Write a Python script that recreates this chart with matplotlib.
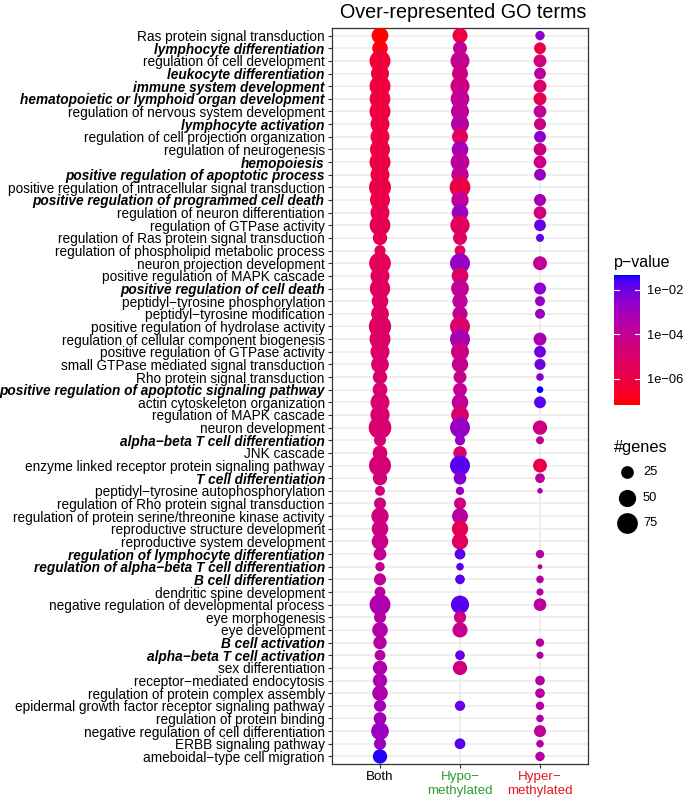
import numpy as np
import matplotlib
matplotlib.use("Agg")
import matplotlib.pyplot as plt
from matplotlib.colors import ListedColormap, Normalize

plt.rcParams['font.family'] = ['Liberation Sans', 'DejaVu Sans']

# ---------------- data ----------------
terms = [
    "Ras protein signal transduction", "lymphocyte differentiation",
    "regulation of cell development", "leukocyte differentiation",
    "immune system development", "hematopoietic or lymphoid organ development",
    "regulation of nervous system development", "lymphocyte activation",
    "regulation of cell projection organization", "regulation of neurogenesis",
    "hemopoiesis", "positive regulation of apoptotic process",
    "positive regulation of intracellular signal transduction",
    "positive regulation of programmed cell death",
    "regulation of neuron differentiation", "regulation of GTPase activity",
    "regulation of Ras protein signal transduction",
    "regulation of phospholipid metabolic process",
    "neuron projection development", "positive regulation of MAPK cascade",
    "positive regulation of cell death", "peptidyl\u2212tyrosine phosphorylation",
    "peptidyl\u2212tyrosine modification", "positive regulation of hydrolase activity",
    "regulation of cellular component biogenesis",
    "positive regulation of GTPase activity",
    "small GTPase mediated signal transduction", "Rho protein signal transduction",
    "positive regulation of apoptotic signaling pathway",
    "actin cytoskeleton organization", "regulation of MAPK cascade",
    "neuron development", "alpha\u2212beta T cell differentiation", "JNK cascade",
    "enzyme linked receptor protein signaling pathway", "T cell differentiation",
    "peptidyl\u2212tyrosine autophosphorylation",
    "regulation of Rho protein signal transduction",
    "regulation of protein serine/threonine kinase activity",
    "reproductive structure development", "reproductive system development",
    "regulation of lymphocyte differentiation",
    "regulation of alpha\u2212beta T cell differentiation", "B cell differentiation",
    "dendritic spine development", "negative regulation of developmental process",
    "eye morphogenesis", "eye development", "B cell activation",
    "alpha\u2212beta T cell activation", "sex differentiation",
    "receptor\u2212mediated endocytosis", "regulation of protein complex assembly",
    "epidermal growth factor receptor signaling pathway",
    "regulation of protein binding", "negative regulation of cell differentiation",
    "ERBB signaling pathway", "ameboidal\u2212type cell migration",
]
immune_terms = [1, 3, 4, 5, 7, 10, 11, 13, 20, 28, 32, 35, 41, 42, 43, 48, 49]

groups = ["Both", "Hypo\u2212\nmethylated", "Hyper\u2212\nmethylated"]
group_colors = ["black", "#2E9B2E", "#E3171C"]

nan = np.nan
genes_both = [46, 40, 77, 55, 77, 75, 77, 62, 62, 69, 77, 62, 85, 69, 62, 75, 33, 18,
              83, 62, 72, 46, 53, 88, 77, 62, 53, 33, 35, 62, 64, 91, 22, 35, 85, 33,
              14, 22, 50, 46, 46, 25, 12, 22, 17, 76, 22, 40, 28, 17, 33, 33, 40, 22,
              25, 53, 22, 33]
genes_hypo = [37, 31, 62, 42, 62, 60, 55, 55, 42, 46, 60, 50, 75, 50, 46, 64, 31, 17,
              69, 46, 53, 38, 37, 69, 69, 55, 44, 26, 30, 46, 53, 69, 15, 28, 69, 25,
              9, 22, 42, 44, 44, 17, 7, 13, nan, 56, 23, 37, nan, 13, 33, nan, nan, 15,
              nan, nan, 17, nan]
genes_hyper = [12, 21, 26, 21, 26, 26, 25, 22, 21, 25, 25, 21, nan, 22, 25, 21, 8, nan,
               31, nan, 22, 14, 14, nan, 26, 21, 18, 7, 5, 21, nan, 33, 8, nan, 31, 13,
               3, nan, nan, nan, nan, 9, 2, 7, 6, 25, nan, nan, 9, 6, nan, 13, 13, 9,
               7, 22, 7, 12]

# log10(p-value)
logp_both = [-7.17, -7.0, -6.3, -6.2, -6.2, -6.1, -6.1, -6.05, -6.05, -6.0, -5.95,
             -5.95, -5.9, -5.9, -5.7, -5.6, -5.6, -5.6, -5.5, -5.45, -5.3, -5.3, -5.25,
             -5.2, -5.15, -5.1, -5.0, -4.95, -4.95, -4.95, -4.9, -4.9, -4.8, -4.8,
             -4.75, -4.6, -4.6, -4.55, -4.5, -4.45, -4.25, -4.0, -3.9, -3.9, -3.8,
             -3.3, -3.55, -3.55, -3.55, -3.55, -3.3, -3.3, -3.3, -3.1, -3.1, -2.75,
             -2.9, -1.4]
logp_hypo = [-6.0, -3.9, -4.0, -4.5, -4.45, -3.9, -3.9, -3.65, -5.4, -3.1, -3.8, -3.9,
             -5.9, -3.9, -2.85, -5.4, -5.2, -5.4, -2.7, -5.05, -3.9, -3.9, -3.9, -5.05,
             -3.25, -4.45, -4.1, -4.1, -4.1, -3.9, -4.95, -2.7, -2.75, -4.95, -1.75,
             -2.4, -2.75, -4.45, -3.7, -5.6, -5.35, -1.75, -1.75, -1.75, nan, -1.75,
             -4.45, -4.1, nan, -1.9, -4.45, nan, nan, -1.9, nan, nan, -1.75, nan]
logp_hyper = [-2.5, -5.9, -4.55, -3.8, -5.05, -5.6, -3.85, -4.35, -2.5, -4.45, -4.45,
              -2.75, nan, -3.1, -4.55, -1.9, -1.85, nan, -3.9, nan, -2.5, -2.75, -2.75,
              nan, -3.25, -2.05, -2.05, -2.4, -1.33, -1.75, nan, -4.45, -3.9, nan, -5.9,
              -3.7, -3.55, nan, nan, nan, nan, -3.55, -3.55, -3.55, -3.7, -3.7, nan,
              nan, -3.55, -3.55, nan, -3.55, -3.55, -3.55, -3.55, -3.9, -3.55, -3.55]

size_legend_values = [25, 50, 75]
color_ticks = [-6, -4, -2]
color_tick_labels = ["1e\u221206", "1e\u221204", "1e\u221202"]

# ---------------- colour map: red -> blue interpolated in CIE Lab ----------------
WP = np.array([0.95047, 1.0, 1.08883])
M = np.array([[0.4124564, 0.3575761, 0.1804375],
              [0.2126729, 0.7151522, 0.0721750],
              [0.0193339, 0.1191920, 0.9503041]])


def srgb_to_lab(rgb):
    rgb = np.asarray(rgb, float)
    c = np.where(rgb <= 0.04045, rgb / 12.92, ((rgb + 0.055) / 1.055) ** 2.4)
    xyz = M @ c
    f = xyz / WP
    d = 6 / 29
    f = np.where(f > d ** 3, np.cbrt(f), f / (3 * d * d) + 4 / 29)
    return np.array([116 * f[1] - 16, 500 * (f[0] - f[1]), 200 * (f[1] - f[2])])


def lab_to_srgb(lab):
    L, a, b = lab
    fy = (L + 16) / 116
    fx = fy + a / 500
    fz = fy - b / 200
    d = 6 / 29
    f = np.array([fx, fy, fz])
    xyz = np.where(f > d, f ** 3, 3 * d * d * (f - 4 / 29)) * WP
    c = np.linalg.inv(M) @ xyz
    c = np.clip(c, 0, 1)
    rgb = np.where(c <= 0.0031308, 12.92 * c, 1.055 * c ** (1 / 2.4) - 0.055)
    return np.clip(rgb, 0, 1)


lab_lo = srgb_to_lab([1, 0, 0])
lab_hi = srgb_to_lab([0, 0, 1])
cols = [lab_to_srgb(lab_lo + (lab_hi - lab_lo) * t) for t in np.linspace(0, 1, 256)]
cmap = ListedColormap(cols)

all_logp = np.array(logp_both + logp_hypo + logp_hyper, float)
vmin, vmax = np.nanmin(all_logp), np.nanmax(all_logp)
norm = Normalize(vmin, vmax)


def marker_area(n):
    d_px = 1.77 + 2.19 * np.sqrt(np.asarray(n, float))
    return (d_px * 0.72) ** 2


# ---------------- figure ----------------
W, H = 685, 805
fig = plt.figure(figsize=(W / 100, H / 100), dpi=100)
L, R, T, B = 332, 588, 28, 764
ax = fig.add_axes([L / W, 1 - B / H, (R - L) / W, (B - T) / H])

nrow = len(terms)
ax.set_xlim(0.4, 3.6)
ax.set_ylim(nrow - 1 + 0.6, -0.6)

for yy in range(nrow):
    ax.axhline(yy, color="#EBEBEB", lw=1.1, zorder=0)
for xx in (1, 2, 3):
    ax.axvline(xx, color="#EBEBEB", lw=1.1, zorder=0)

ypos = np.arange(nrow)
for gi, (gn, lp) in enumerate(zip([genes_both, genes_hypo, genes_hyper],
                                  [logp_both, logp_hypo, logp_hyper])):
    gn = np.array(gn, float)
    lp = np.array(lp, float)
    ok = ~np.isnan(gn) & ~np.isnan(lp)
    ax.scatter(np.full(ok.sum(), gi + 1.0), ypos[ok], s=marker_area(gn[ok]),
               c=lp[ok], cmap=cmap, norm=norm, linewidths=0, zorder=3)

ax.set_yticks(ypos)
ax.set_yticklabels(terms, fontsize=9.8)
for i, lab in enumerate(ax.get_yticklabels()):
    lab.set_color("black")
    if i in immune_terms:
        lab.set_fontweight("bold")
        lab.set_fontstyle("italic")

ax.set_xticks([1, 2, 3])
ax.set_xticklabels(groups, fontsize=9.6, linespacing=1.2)
for lab, col in zip(ax.get_xticklabels(), group_colors):
    lab.set_color(col)
    lab.set_verticalalignment("top")

ax.tick_params(axis="both", direction="out", length=3.2, width=0.8, color="#333333",
               pad=2)
for sp in ax.spines.values():
    sp.set_color("#333333")
    sp.set_linewidth(0.9)

fig.text(463 / W, 1 - 12 / H, "Over-represented GO terms", fontsize=14.2,
         ha="center", va="center")

# ---------------- colour bar ----------------
cx0, cx1, cy0, cy1 = 614, 640, 275, 405
cax = fig.add_axes([cx0 / W, 1 - cy1 / H, (cx1 - cx0) / W, (cy1 - cy0) / H])
grad = np.linspace(vmin, vmax, 200).reshape(-1, 1)
cax.imshow(grad, cmap=cmap, norm=norm, aspect="auto", origin="lower",
           extent=[0, 1, vmin, vmax])
cax.set_xlim(0, 1)
cax.set_ylim(vmin, vmax)
cax.set_xticks([])
cax.yaxis.tick_right()
cax.set_yticks(color_ticks)
cax.set_yticklabels(color_tick_labels, fontsize=9.3)
cax.tick_params(axis="y", length=0, pad=5)
for t in color_ticks:
    cax.plot([0, 0.2], [t, t], color="white", lw=0.8)
    cax.plot([0.8, 1], [t, t], color="white", lw=0.8)
for sp in cax.spines.values():
    sp.set_visible(False)
fig.text(614 / W, 1 - 262 / H, "p\u2212value", fontsize=11.5, ha="left", va="center")

# ---------------- size legend ----------------
fig.text(614 / W, 1 - 447 / H, "#genes", fontsize=11.8, ha="left", va="center")
lax = fig.add_axes([0, 0, 1, 1], facecolor="none")
lax.set_xlim(0, W)
lax.set_ylim(H, 0)
lax.axis("off")
for k, v in enumerate(size_legend_values):
    yk = 472 + 25.5 * k
    lax.scatter([627], [yk], s=marker_area(v), color="black", linewidths=0)
    lax.text(643, yk, str(v), fontsize=9.3, ha="left", va="center")

fig.savefig("out.png", dpi=100)
